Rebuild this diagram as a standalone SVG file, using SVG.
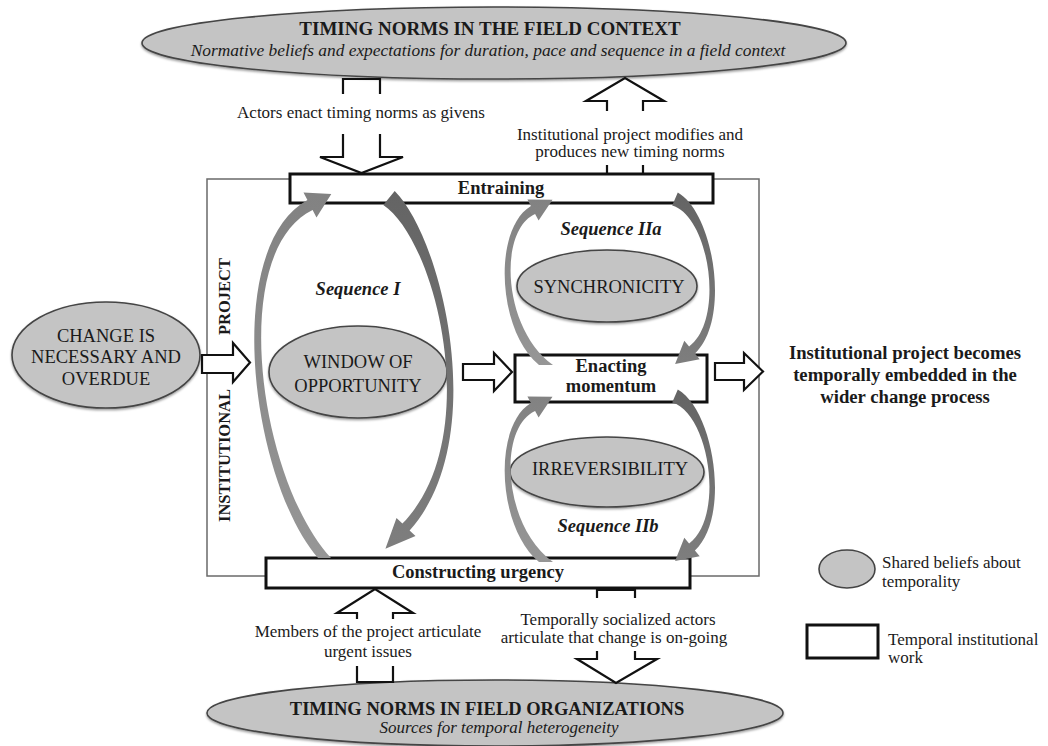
<svg xmlns="http://www.w3.org/2000/svg" width="1048" height="746" viewBox="0 0 1048 746">
  <style>
    .t { font-family: "Liberation Serif", "Times New Roman", serif; fill: #1a1a1a; }
    .b { font-weight: bold; }
    .i { font-style: italic; }
    .ell { fill: #c4c4c4; stroke: #444; stroke-width: 1.6; }
    .shadow { filter: url(#soft); }
    .box { fill: #fff; stroke: #111; stroke-width: 3; }
    .frame { fill: none; stroke: #6a6a6a; stroke-width: 1.5; }
    .oarrow { fill: #fff; stroke: #111; stroke-width: 2.2; stroke-linejoin: miter; }
    .oline { fill: none; stroke: #111; stroke-width: 2.2; }
    .arcL { fill: url(#gradRise); }
    .arcD { fill: url(#gradFall); }
  </style>
  <defs>
    <filter id="soft" x="-5%" y="-10%" width="110%" height="130%">
      <feDropShadow dx="0" dy="1.5" stdDeviation="1" flood-color="#000" flood-opacity="0.4"/>
    </filter>
    <linearGradient id="gradRise" x1="0" y1="1" x2="0" y2="0">
      <stop offset="0" stop-color="#969696"/>
      <stop offset="1" stop-color="#828282"/>
    </linearGradient>
    <linearGradient id="gradFall" x1="0" y1="0" x2="0" y2="1">
      <stop offset="0" stop-color="#646464"/>
      <stop offset="1" stop-color="#7e7e7e"/>
    </linearGradient>
    <!-- small loop: rising arc on the left, falling arc on the right -->
    <path id="loopRise" class="arcL" d="M539,365 C497.4,331 492.3,229.3 530.9,206 L527.4,199.4 L552.5,199.7 L538.6,220.6 L535.1,214 C497.7,230.7 502.6,329 553,365 Z"/>
    <path id="loopFall" class="arcD" d="M677.8,192.6 C714.6,213.9 730.8,320.4 694.9,353.5 L699.7,359.2 L675.1,364.1 L684.3,340.8 L689.1,346.5 C725.2,319.6 709.4,216.1 672.2,205.4 Z"/>
  </defs>

  <rect width="1048" height="746" fill="#fff"/>

  <!-- institutional project frame -->
  <g id="frame">
    <rect class="frame" x="207" y="179" width="552" height="397"/>
    <text class="t b" font-size="16.5" text-anchor="end" transform="translate(230,389) rotate(-90)">INSTITUTIONAL</text>
    <text class="t b" font-size="16.5" transform="translate(230,335) rotate(-90)">PROJECT</text>
  </g>

  <g id="field-context">
    <ellipse class="ell shadow" cx="494" cy="43" rx="352" ry="36"/>
    <text class="t b" x="490" y="35" font-size="19" text-anchor="middle">TIMING NORMS IN THE FIELD CONTEXT</text>
    <text class="t i" x="488" y="56" font-size="17.4" text-anchor="middle">Normative beliefs and expectations for duration, pace and sequence in a field context</text>
  </g>

  <g id="field-organizations">
    <ellipse class="ell shadow" cx="495" cy="713" rx="288" ry="33"/>
    <text class="t b" x="487" y="715" font-size="18.5" text-anchor="middle">TIMING NORMS IN FIELD ORGANIZATIONS</text>
    <text class="t i" x="499" y="733" font-size="17" text-anchor="middle">Sources for temporal heterogeneity</text>
  </g>

  <g id="change-necessary">
    <ellipse class="ell shadow" cx="106" cy="355" rx="94" ry="53"/>
    <text class="t" x="106" y="342" font-size="18.5" text-anchor="middle">CHANGE IS</text>
    <text class="t" x="106" y="363" font-size="18.5" text-anchor="middle">NECESSARY AND</text>
    <text class="t" x="106" y="385" font-size="18.5" text-anchor="middle">OVERDUE</text>
  </g>

  <g id="window-of-opportunity">
    <ellipse class="ell shadow" cx="358" cy="372" rx="89" ry="46"/>
    <text class="t" x="358" y="368" font-size="18.5" text-anchor="middle">WINDOW OF</text>
    <text class="t" x="358" y="392" font-size="18.5" text-anchor="middle">OPPORTUNITY</text>
  </g>

  <g id="synchronicity">
    <ellipse class="ell shadow" cx="607" cy="286" rx="90" ry="36"/>
    <text class="t" x="609" y="293" font-size="18.5" text-anchor="middle">SYNCHRONICITY</text>
  </g>

  <g id="irreversibility">
    <ellipse class="ell shadow" cx="607" cy="472" rx="97" ry="35"/>
    <text class="t" x="610" y="475" font-size="18.5" text-anchor="middle">IRREVERSIBILITY</text>
  </g>

  <g id="entraining">
    <rect class="box" x="290" y="174" width="423" height="29"/>
    <text class="t b" x="501" y="194" font-size="18.5" text-anchor="middle">Entraining</text>
  </g>

  <g id="constructing-urgency">
    <rect class="box" x="266" y="558" width="424" height="30"/>
    <text class="t b" x="478" y="578" font-size="18.5" text-anchor="middle">Constructing urgency</text>
  </g>

  <g id="enacting-momentum">
    <rect class="box" x="515" y="355" width="192" height="47"/>
    <text class="t b" x="611" y="372" font-size="18.5" text-anchor="middle">Enacting</text>
    <text class="t b" x="611" y="392" font-size="18.5" text-anchor="middle">momentum</text>
  </g>

  <g id="sequence-labels">
    <text class="t b i" x="358" y="295" font-size="18.5" text-anchor="middle">Sequence I</text>
    <text class="t b i" x="611" y="235" font-size="18.5" text-anchor="middle">Sequence IIa</text>
    <text class="t b i" x="608" y="532" font-size="18.5" text-anchor="middle">Sequence IIb</text>
  </g>

  <g id="embedded-outcome">
    <text class="t b" x="905" y="359" font-size="18.7" text-anchor="middle">Institutional project becomes</text>
    <text class="t b" x="905" y="381" font-size="18.7" text-anchor="middle">temporally embedded in the</text>
    <text class="t b" x="905" y="403" font-size="18.7" text-anchor="middle">wider change process</text>
  </g>

  <g id="legend">
    <ellipse class="ell" cx="847" cy="569" rx="28" ry="19"/>
    <text class="t" x="882" y="568" font-size="17">Shared beliefs about</text>
    <text class="t" x="882" y="587" font-size="17">temporality</text>
    <rect class="box" x="807" y="625" width="71" height="33"/>
    <text class="t" x="888" y="645" font-size="17">Temporal institutional</text>
    <text class="t" x="888" y="663" font-size="17">work</text>
  </g>

  <g id="connectors">
    <!-- sequence I loop -->
    <path class="arcL" d="M318,558 C251.6,481 220.7,248.7 307.4,200.1 L303.5,192.6 L331.3,193.9 L316.5,217.4 L312.6,209.9 C227.3,251.3 258.4,479 331,558 Z"/>
    <path class="arcD" d="M394.7,191.1 C442.8,238.9 491,440.4 409.6,530.4 L415.5,535.9 L385.4,548.8 L396.5,518.1 L402.4,523.6 C485,439.6 437.2,241.1 383.3,204.9 Z"/>
    <!-- sequence IIa loop -->
    <use href="#loopRise"/>
    <use href="#loopFall"/>
    <!-- sequence IIb loop -->
    <use href="#loopRise" transform="translate(0,197)"/>
    <use href="#loopFall" transform="translate(0,197)"/>

    <!-- horizontal block arrows -->
    <polygon class="oarrow" points="202,355 233,355 233,343 250,362.5 233,382 233,373 202,373"/>
    <polygon class="oarrow" points="463,364 494,364 494,353 512,372 494,391 494,380 463,380"/>
    <polygon class="oarrow" points="715,363 744,363 744,353 763,371.5 744,390 744,380 715,380"/>

    <!-- field context to entraining -->
    <path class="oline" d="M343,94 V79 H380 V94"/>
    <path class="oarrow" d="M343,134 V157 H320 L361.5,173 L403,157 H380 V134"/>
    <text class="t" x="361" y="118" font-size="17" text-anchor="middle">Actors enact timing norms as givens</text>

    <!-- entraining back to field context -->
    <path class="oarrow" d="M607,111 V101 H586 L625,78 L664,101 H643 V111"/>
    <path class="oline" d="M607,165 V174 M643,165 V174"/>
    <text class="t" x="630" y="140" font-size="17" text-anchor="middle">Institutional project modifies and</text>
    <text class="t" x="630" y="157" font-size="17" text-anchor="middle">produces new timing norms</text>

    <!-- field organizations to constructing urgency -->
    <path class="oarrow" d="M357,619 V613 H337 L375,589 L413,613 H393 V619"/>
    <path class="oline" d="M357,666 V682 H393 V666"/>
    <text class="t" x="368" y="637" font-size="17" text-anchor="middle">Members of the project articulate</text>
    <text class="t" x="368" y="657" font-size="17" text-anchor="middle">urgent issues</text>

    <!-- constructing urgency to field organizations -->
    <path class="oline" d="M597,598 V590 H635 V598"/>
    <path class="oarrow" d="M597,651 V659 H577 L616,683 L657,659 H635 V651"/>
    <text class="t" x="618" y="625" font-size="17" text-anchor="middle">Temporally socialized actors</text>
    <text class="t" x="614" y="643" font-size="17" text-anchor="middle">articulate that change is on-going</text>
  </g>
</svg>
